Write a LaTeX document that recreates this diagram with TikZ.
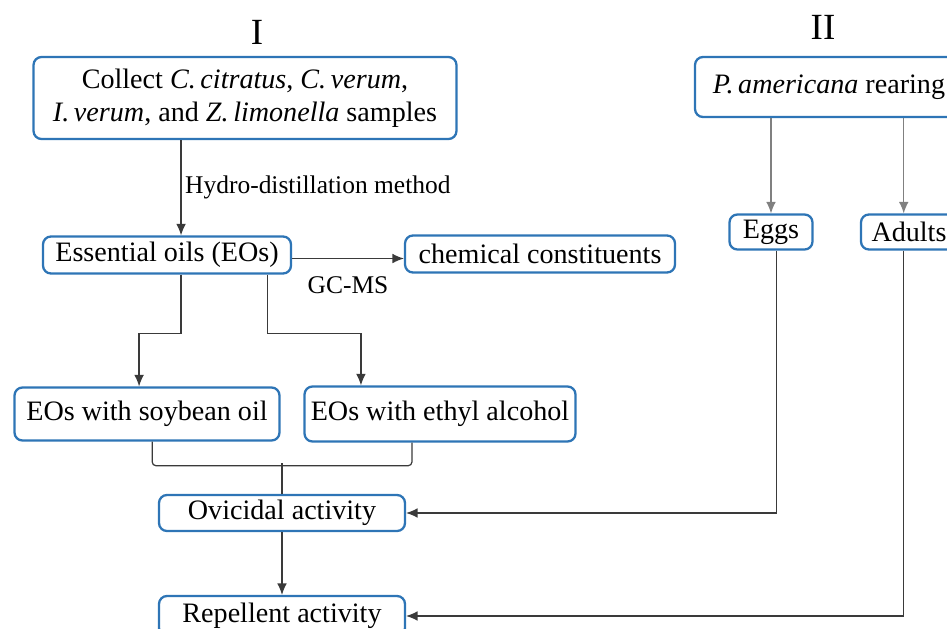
\documentclass[tikz,border=0pt]{standalone}
\usepackage{fontspec}
\setmainfont{Liberation Serif}
\usepackage{tikz}
\usetikzlibrary{arrows.meta}
\definecolor{flowBoxBlue}{HTML}{2E75B6}
\definecolor{flowWire}{HTML}{3A3A3A}

\begin{document}
\begin{tikzpicture}[x=0.02cm, y=-0.02cm,
    stagebox/.style={draw=flowBoxBlue, line width=1.3pt, rounded corners=4.5pt, fill=white,
      inner sep=1pt, align=center, font=\fontsize{16}{18.5}\selectfont},
    wire/.style={draw=flowWire, line width=0.7pt},
    arr/.style={wire, -{Latex[length=6.5pt,width=5.5pt]}},
    lbl/.style={font=\fontsize{14.5}{17}\selectfont, inner sep=2pt},
    part/.style={font=\fontsize{21}{24}\selectfont}]
            \useasboundingbox (0,0) rectangle (947,629);
            \clip (0,0) rectangle (947,629);
            \node[part] (titleI) at (257,32) {I};
            \node[part] (titleII) at (823,27) {II};
            \node[stagebox, minimum width=8.46cm, minimum height=1.64cm] (collect) at (245,98)
                {Collect \textit{C.\,citratus}, \textit{C.\,verum},\\ \textit{I.\,verum}, and \textit{Z.\,limonella} samples};
            \node[stagebox, minimum width=4.96cm, minimum height=0.74cm] (ess) at (167,255) {Essential oils (EOs)};
            \node[stagebox, minimum width=5.4cm, minimum height=0.74cm] (chem) at (540,254) {chemical constituents};
            \node[stagebox, minimum width=5.3cm, minimum height=1.06cm] (soy) at (147,414) {EOs with soybean oil};
            \node[stagebox, minimum width=5.42cm, minimum height=1.1cm] (eth) at (440,414) {EOs with ethyl alcohol};
            \node[stagebox, minimum width=4.92cm, minimum height=0.72cm] (ovi) at (282,513) {Ovicidal activity};
            \node[stagebox, minimum width=4.92cm, minimum height=0.8cm] (rep) at (282,616) {Repellent activity};
            \node[stagebox, minimum width=5.36cm, minimum height=1.2cm] (pam) at (829,87) {\textit{P.\,americana} rearing};
            \node[stagebox, minimum width=1.66cm, minimum height=0.7cm] (eggs) at (771,232) {Eggs};
            \node[stagebox, minimum width=1.92cm, minimum height=0.7cm] (adults) at (909,232) {Adults};

            \draw[arr] ([xshift=8pt]ess.north |- collect.south) -- ([xshift=8pt]ess.north)
                node[midway, right, lbl] (hydro) {Hydro-distillation method};
            \draw[arr] ([yshift=-2pt]ess.east) -- ([yshift=-2pt]ess.east -| chem.west)
                node[midway, below=8pt, lbl] (gcms) {GC-MS};
            \draw[arr] ([xshift=8pt]ess.south) -- ++(0,59) -| ([xshift=-4.5pt]soy.north);
            \draw[arr] ([xshift=57pt]ess.south) -- ++(0,59) -| ([xshift=-45pt]eth.north);
            \draw[wire, rounded corners=2pt] ([xshift=3pt]soy.south) -- ++(0,24) -| ([xshift=-16pt]eth.south);
            \draw[wire] (ovi.north) -- ++(0,-31);
            \draw[arr] (ovi) -- (rep);
            \draw[arr, draw=gray] (pam.south -| eggs.north) -- (eggs.north);
            \draw[arr, draw=gray] ([xshift=-3pt]pam.south -| adults.north) -- ([xshift=-3pt]adults.north);
            \draw[arr] ([xshift=3pt]eggs.south) |- (ovi.east);
            \draw[arr] ([xshift=-3pt]adults.south) |- (rep.east);
        \end{tikzpicture}
\end{document}
